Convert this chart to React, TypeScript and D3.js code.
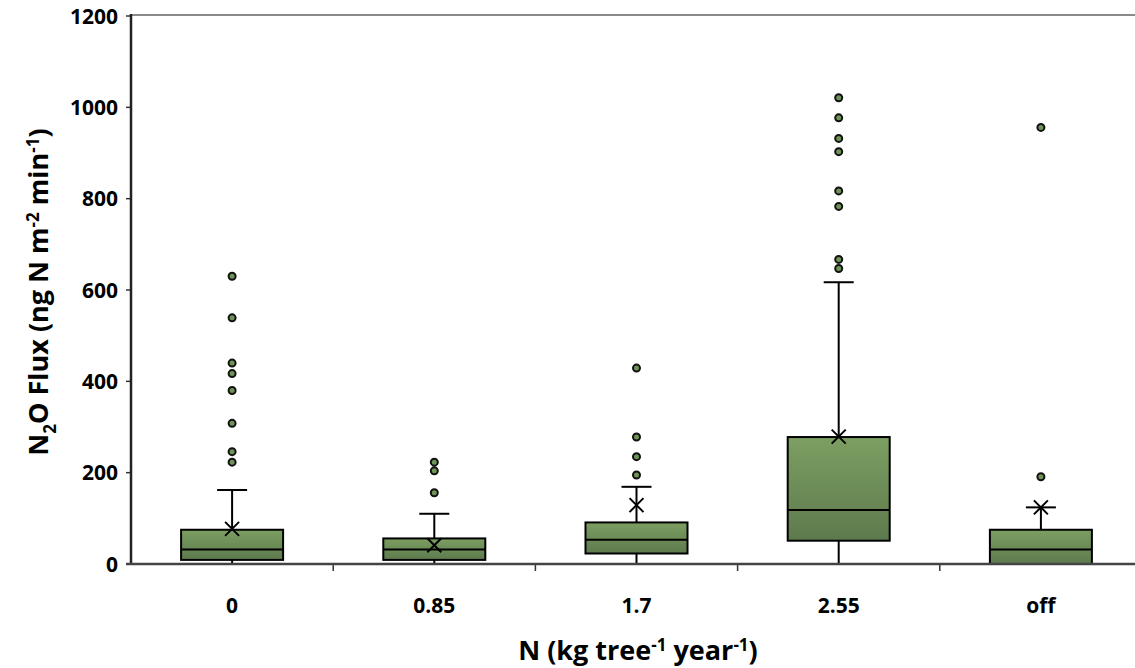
import React from "react";
import * as d3 from "d3";

const categories = ["0", "0.85", "1.7", "2.55", "off"];
const q1 = [9, 9, 23, 51, 0];
const median = [32, 32, 53, 118, 32];
const q3 = [75, 56, 91, 278, 75];
const whiskerLow = [0, 0, 0, 0, 0];
const whiskerHigh = [162, 110, 169, 617, 124];
const means = [77, 41, 129, 279, 124];
const outliers: number[][] = [
  [630, 539, 440, 417, 380, 308, 246, 223],
  [223, 204, 156],
  [429, 278, 235, 195],
  [1021, 977, 932, 903, 817, 783, 667, 647],
  [956, 191],
];
const yTicks = [0, 200, 400, 600, 800, 1000, 1200];

const W = 1135;
const H = 668;
const left = 131;
const right = 1142;
const top = 16;
const bottom = 564;
const FONT = "'Open Sans', Lato, sans-serif";

export default function App() {
  const x = d3.scaleBand().domain(categories).range([left, right]).paddingInner(0).paddingOuter(0);
  const y = d3.scaleLinear().domain([0, 1200]).range([bottom, top]);
  const bw = 102;
  const capW = 30;
  const boundaries = categories.map((c) => (x(c) as number)).slice(1);

  return (
    <svg width={W} height={H} style={{ position: "absolute", left: 0, top: 0, background: "#fff" }}>
      <defs>
        <linearGradient id="boxg" x1="0" y1="0" x2="0" y2="1">
          <stop offset="0%" stopColor="#7c9f62" />
          <stop offset="100%" stopColor="#5d7a4d" />
        </linearGradient>
      </defs>
      <line x1={left} x2={W} y1={top - 1} y2={top - 1} stroke="#8a8a8a" strokeWidth={2} />
      {yTicks.map((t) => (
        <g key={t}>
          <line x1={left - 5} x2={left} y1={y(t)} y2={y(t)} stroke="#333" strokeWidth={1.5} />
          <text x={118} y={y(t)} dy="0.36em" textAnchor="end" fontFamily={FONT} fontWeight={700} fontSize={21} fill="#000">
            {t}
          </text>
        </g>
      ))}
      {boundaries.map((b, i) => (
        <line key={i} x1={b} x2={b} y1={bottom} y2={bottom + 7} stroke="#333" strokeWidth={1.5} />
      ))}
      {categories.map((c, i) => {
        const cx = (x(c) as number) + x.bandwidth() / 2;
        return (
          <g key={c}>
            <line x1={cx} x2={cx} y1={y(q3[i])} y2={y(whiskerHigh[i])} stroke="#000" strokeWidth={2} />
            <line x1={cx} x2={cx} y1={y(q1[i])} y2={y(whiskerLow[i])} stroke="#000" strokeWidth={2} />
            <line x1={cx - capW / 2} x2={cx + capW / 2} y1={y(whiskerHigh[i])} y2={y(whiskerHigh[i])} stroke="#000" strokeWidth={2} />
            <line x1={cx - capW / 2} x2={cx + capW / 2} y1={y(whiskerLow[i])} y2={y(whiskerLow[i])} stroke="#000" strokeWidth={2} />
            <rect x={cx - bw / 2} y={y(q3[i])} width={bw} height={y(q1[i]) - y(q3[i])} fill="url(#boxg)" stroke="#000" strokeWidth={2} />
            <line x1={cx - bw / 2} x2={cx + bw / 2} y1={y(median[i])} y2={y(median[i])} stroke="#000" strokeWidth={2} />
            <path
              d={`M${cx - 7},${y(means[i]) - 7}L${cx + 7},${y(means[i]) + 7}M${cx - 7},${y(means[i]) + 7}L${cx + 7},${y(means[i]) - 7}`}
              stroke="#000"
              strokeWidth={2}
            />
            {outliers[i].map((o, j) => (
              <circle key={j} cx={cx} cy={y(o)} r={3.5} fill="#6f9456" stroke="#111" strokeWidth={2} />
            ))}
            <text x={cx} y={605} dy="0.36em" textAnchor="middle" fontFamily={FONT} fontWeight={700} fontSize={21} fill="#000">
              {c}
            </text>
          </g>
        );
      })}
      <line x1={left} x2={left} y1={top - 2} y2={bottom + 1} stroke="#222" strokeWidth={2.5} />
      <line x1={left - 5} x2={W} y1={bottom} y2={bottom} stroke="#444" strokeWidth={2.5} />
      <text x={638} y={650} dy="0.36em" textAnchor="middle" fontFamily={FONT} fontWeight={700} fontSize={27} fill="#000">
        N (kg tree<tspan dy="-9" fontSize={17}>-1</tspan>
        <tspan dy="9"> year</tspan>
        <tspan dy="-9" fontSize={17}>-1</tspan>
        <tspan dy="9">)</tspan>
      </text>
      <text
        transform={`translate(38,292) rotate(-90)`}
        textAnchor="middle"
        dy="0.36em"
        fontFamily={FONT}
        fontWeight={700}
        fontSize={27}
        fill="#000"
      >
        N<tspan dy="8" fontSize={17}>2</tspan>
        <tspan dy="-8">O Flux (ng N m</tspan>
        <tspan dy="-9" fontSize={17}>-2</tspan>
        <tspan dy="9"> min</tspan>
        <tspan dy="-9" fontSize={17}>-1</tspan>
        <tspan dy="9">)</tspan>
      </text>
    </svg>
  );
}
